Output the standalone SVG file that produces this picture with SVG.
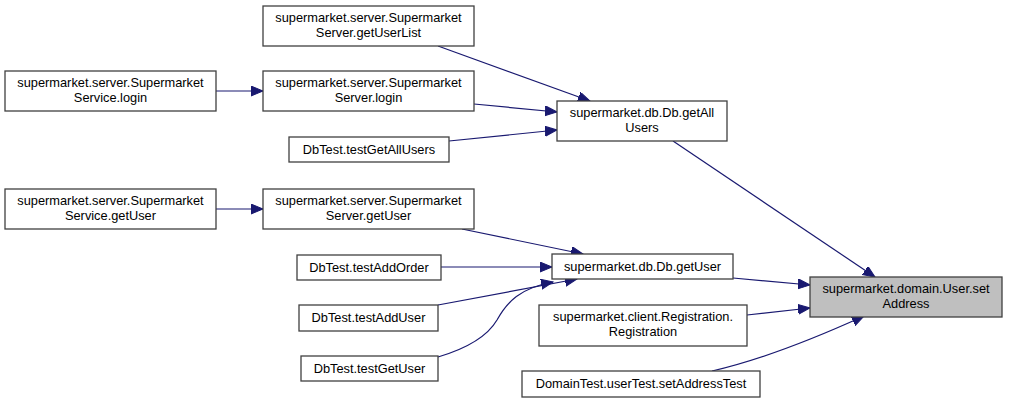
<svg xmlns="http://www.w3.org/2000/svg" width="1009" height="403" viewBox="0 0 1009 403">
<style>
.n rect{fill:#ffffff;stroke:#404040;stroke-width:1.3}
.n.cur rect{fill:#bfbfbf}
.n text{font-family:"Liberation Sans",Arial,sans-serif;font-size:12.8px;fill:#000000;text-anchor:middle}
.e path{fill:none;stroke:#191970;stroke-width:1.2;marker-end:url(#ah)}
</style>
<defs>
<marker id="ah" markerUnits="userSpaceOnUse" markerWidth="14" markerHeight="12" refX="12" refY="5" orient="auto">
<path d="M0,0 L12,5 L0,10 z" fill="#191970" stroke="#191970" stroke-width="1"/>
</marker>
</defs>
<rect width="1009" height="403" fill="#ffffff"/>
<g id="edges" class="e">
<path d="M438,46 L590,101"/>
<path d="M474,104 L557,112"/>
<path d="M449,141 L557,130"/>
<path d="M216,91 L263,91"/>
<path d="M673,141 L875,277"/>
<path d="M216,209 L263,209"/>
<path d="M462,229 L583,254"/>
<path d="M441,267 L552,267"/>
<path d="M438,305 L577,279"/>
<path d="M438,357 C465,349 487,337 497,320 C507,302 520,288 553,282"/>
<path d="M733,278 L810,285"/>
<path d="M747,315 L810,308"/>
<path d="M712,371 C760,360 820,336 864,316"/>
</g>
<g id="getUserList" class="n"><rect x="263" y="6" width="211" height="40"/><text x="368.5" y="22">supermarket.server.Supermarket</text><text x="368.5" y="37">Server.getUserList</text></g>
<g id="serviceLogin" class="n"><rect x="5" y="71" width="211" height="40"/><text x="110.5" y="87">supermarket.server.Supermarket</text><text x="110.5" y="102">Service.login</text></g>
<g id="serverLogin" class="n"><rect x="263" y="71" width="211" height="40"/><text x="368.5" y="87">supermarket.server.Supermarket</text><text x="368.5" y="102">Server.login</text></g>
<g id="testGetAllUsers" class="n"><rect x="289" y="137" width="160" height="25"/><text x="369" y="154">DbTest.testGetAllUsers</text></g>
<g id="getAllUsers" class="n"><rect x="557" y="101" width="170" height="40"/><text x="642" y="117">supermarket.db.Db.getAll</text><text x="642" y="132">Users</text></g>
<g id="serviceGetUser" class="n"><rect x="5" y="189" width="211" height="40"/><text x="110.5" y="205">supermarket.server.Supermarket</text><text x="110.5" y="220">Service.getUser</text></g>
<g id="serverGetUser" class="n"><rect x="263" y="189" width="211" height="40"/><text x="368.5" y="205">supermarket.server.Supermarket</text><text x="368.5" y="220">Server.getUser</text></g>
<g id="testAddOrder" class="n"><rect x="297" y="255" width="144" height="25"/><text x="369" y="272">DbTest.testAddOrder</text></g>
<g id="getUser" class="n"><rect x="552" y="254" width="181" height="25"/><text x="642.5" y="271">supermarket.db.Db.getUser</text></g>
<g id="testAddUser" class="n"><rect x="299" y="305" width="139" height="26"/><text x="368.5" y="322">DbTest.testAddUser</text></g>
<g id="testGetUser" class="n"><rect x="301" y="356" width="137" height="25"/><text x="369.5" y="373">DbTest.testGetUser</text></g>
<g id="setAddress" class="n cur"><rect x="810" y="277" width="192" height="40"/><text x="906" y="293">supermarket.domain.User.set</text><text x="906" y="308">Address</text></g>
<g id="registration" class="n"><rect x="539" y="305" width="208" height="41"/><text x="643" y="321">supermarket.client.Registration.</text><text x="643" y="336">Registration</text></g>
<g id="setAddressTest" class="n"><rect x="522" y="371" width="238" height="26"/><text x="641" y="388">DomainTest.userTest.setAddressTest</text></g>
</svg>
